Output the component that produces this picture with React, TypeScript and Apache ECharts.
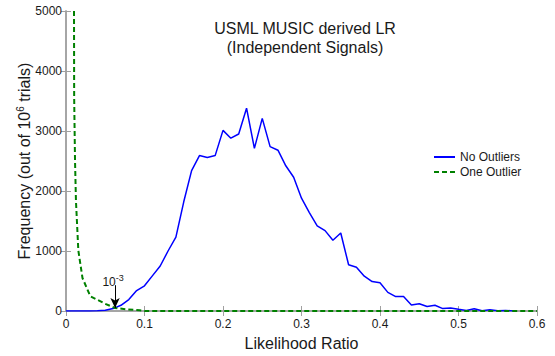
import React, { useEffect, useRef } from "react";
import * as echarts from "echarts";

const lrNoOutliers = [0, 0.01, 0.02, 0.03, 0.04, 0.05, 0.06, 0.07, 0.08, 0.09, 0.1, 0.11, 0.12, 0.13, 0.14, 0.15, 0.16, 0.17, 0.18, 0.19, 0.2, 0.21, 0.22, 0.23, 0.24, 0.25, 0.26, 0.27, 0.28, 0.29, 0.3, 0.31, 0.32, 0.33, 0.34, 0.35, 0.36, 0.37, 0.38, 0.39, 0.4, 0.41, 0.42, 0.43, 0.44, 0.45, 0.46, 0.47, 0.48, 0.49, 0.5, 0.51, 0.52, 0.53, 0.54, 0.55, 0.56, 0.57];
const freqNoOutliers = [0, 0, 0, 0, 3, 12, 40, 95, 190, 340, 420, 585, 750, 1000, 1230, 1820, 2340, 2590, 2560, 2590, 3010, 2880, 2950, 3380, 2710, 3210, 2740, 2680, 2420, 2230, 1880, 1640, 1420, 1340, 1180, 1300, 770, 730, 580, 490, 470, 310, 240, 240, 100, 120, 75, 95, 40, 50, 28, 10, 37, 5, 20, 5, 10, 0];

const lrOneOutlier = [0.0102, 0.0104, 0.0115, 0.0127, 0.0157, 0.021, 0.031, 0.05, 0.0625, 0.077, 0.094, 0.1, 0.2, 0.3, 0.4, 0.5, 0.6];
const freqOneOutlier = [5000, 3560, 2500, 1830, 1010, 550, 245, 120, 50, 28, 11, 0, 0, 0, 0, 0, 0];

const xTicks = { min: 0, max: 0.6, interval: 0.1 };
const yTicks = { min: 0, max: 5000, interval: 1000 };

const annotationPoint = [0.0625, 50];
const annotationTop = 430;
const annotationLabelY = 540;

const seriesNames = ["No Outliers", "One Outlier"];

const FONT = "Liberation Sans, Arial, Helvetica, sans-serif";
const AXIS_GRAY = "#a0a0a0";
const TEXT = "#1a1a1a";

export default function App() {
  const ref = useRef<HTMLDivElement>(null);
  useEffect(() => {
    document.body.style.margin = "0";
    if (!ref.current) return;
    const chart = echarts.init(ref.current, null, { renderer: "svg" });
    const pairs = (xs: number[], ys: number[]) => xs.map((x, i) => [x, ys[i]]);
    const axisCommon = {
      type: "value",
      axisLine: { show: true, lineStyle: { color: AXIS_GRAY, width: 1.5 } },
      axisTick: { show: true, inside: true, length: 5, lineStyle: { color: AXIS_GRAY } },
      splitLine: { show: false },
    };
    chart.setOption({
      animation: false,
      backgroundColor: "#ffffff",
      textStyle: { fontFamily: FONT },
      title: {
        text: "USML MUSIC derived LR\n(Independent Signals)",
        left: 305,
        top: 19,
        padding: 0,
        textAlign: "center",
        textStyle: { fontFamily: FONT, fontSize: 16, fontWeight: "normal", color: TEXT, lineHeight: 19 },
      },
      legend: {
        orient: "vertical",
        left: 433,
        top: 151,
        padding: 0,
        itemWidth: 21,
        itemHeight: 12,
        itemGap: 3,
        data: seriesNames,
        itemStyle: { opacity: 0 },
        textStyle: { fontFamily: FONT, fontSize: 12, color: TEXT },
      },
      grid: { left: 66, right: 18, top: 11, bottom: 37 },
      xAxis: [
        {
          ...axisCommon,
          ...xTicks,
          position: "bottom",
          name: "Likelihood Ratio",
          nameLocation: "middle",
          nameGap: 24,
          nameMoveOverlap: false,
          nameTextStyle: { fontFamily: FONT, fontSize: 16, color: TEXT },
          axisLabel: { fontFamily: FONT, fontSize: 12, color: TEXT, margin: 7 },
        },
        {
          ...axisCommon,
          ...xTicks,
          position: "top",
          axisLabel: { show: false },
        },
      ],
      yAxis: [
        {
          ...axisCommon,
          ...yTicks,
          position: "left",
          name: "Frequency (out of 10{s|6} trials)",
          nameLocation: "middle",
          nameRotate: 90,
          nameGap: 33,
          nameMoveOverlap: false,
          nameTextStyle: {
            fontFamily: FONT,
            fontSize: 16,
            color: TEXT,
            rich: {
              s: { fontFamily: FONT, fontSize: 10, color: TEXT, verticalAlign: "top", padding: [0, 0, 8, 0] },
            },
          },
          axisLabel: {
            fontFamily: FONT,
            fontSize: 12,
            color: TEXT,
            margin: 4,
            formatter: (v: number) => String(v),
          },
        },
        {
          ...axisCommon,
          ...yTicks,
          position: "right",
          axisLabel: { show: false },
        },
      ],
      series: [
        {
          name: seriesNames[0],
          type: "line",
          data: pairs(lrNoOutliers, freqNoOutliers),
          showSymbol: false,
          symbol: "none",
          lineStyle: { color: "#0000ff", width: 1.5 },
          itemStyle: { color: "#0000ff" },
          z: 2,
        },
        {
          name: seriesNames[1],
          type: "line",
          data: pairs(lrOneOutlier, freqOneOutlier),
          showSymbol: false,
          symbol: "none",
          lineStyle: { color: "#008000", width: 2, type: [5, 3] },
          itemStyle: { color: "#008000" },
          z: 3,
          markLine: {
            silent: true,
            symbol: ["none", "arrow"],
            symbolSize: [7, 10],
            label: { show: false },
            lineStyle: { color: "#000000", width: 1, type: "solid" },
            data: [[{ coord: [annotationPoint[0], annotationTop] }, { coord: annotationPoint }]],
          },
          markPoint: {
            silent: true,
            symbol: "circle",
            symbolSize: 0,
            data: [{ coord: [annotationPoint[0], annotationLabelY] }],
            label: {
              show: true,
              position: "inside",
              offset: [-2, 3],
              formatter: "{n|10}{s|-3}",
              rich: {
                n: { fontFamily: FONT, fontSize: 12, color: TEXT, lineHeight: 16 },
                s: { fontFamily: FONT, fontSize: 9, color: TEXT, verticalAlign: "top", lineHeight: 10 },
              },
            },
          },
        },
      ],
    });
    return () => chart.dispose();
  }, []);
  return <div ref={ref} style={{ width: 555, height: 356 }} />;
}
